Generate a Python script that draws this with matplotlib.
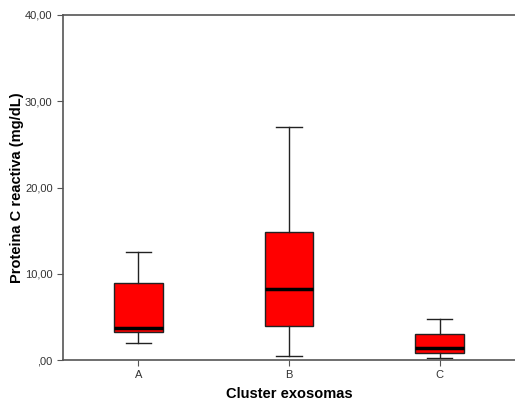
import matplotlib
matplotlib.use("Agg")
import matplotlib.pyplot as plt

plt.rcParams['font.family'] = ['Liberation Sans', 'DejaVu Sans']

categories = ["A", "B", "C"]
whislo = [2.0, 0.45, 0.2]
q1 = [3.2, 3.9, 0.85]
med = [3.7, 8.2, 1.4]
q3 = [8.9, 14.8, 3.0]
whishi = [12.5, 27.0, 4.7]
yticks = [0, 10, 20, 30, 40]
ytick_labels = [",00", "10,00", "20,00", "30,00", "40,00"]

fig = plt.figure(figsize=(5.15, 4.0), dpi=100)
ax = fig.add_axes([63/515, 40/400, 452/515, 345/400])

stats = []
for i, c in enumerate(categories):
    stats.append(dict(label=c, whislo=whislo[i], q1=q1[i], med=med[i],
                      q3=q3[i], whishi=whishi[i], fliers=[]))

ax.bxp(stats, positions=[1, 2, 3], widths=0.325, patch_artist=True,
       showfliers=False,
       boxprops=dict(facecolor="#ff0000", edgecolor="#222222", linewidth=1.0),
       medianprops=dict(color="black", linewidth=2.5),
       whiskerprops=dict(color="#222222", linewidth=1.0),
       capprops=dict(color="#222222", linewidth=1.0),
       capwidths=0.17)

ax.set_xlim(0.5, 3.5)
ax.set_ylim(0, 40)
ax.set_yticks(yticks)
ax.set_yticklabels(ytick_labels)
ax.set_xticks([1, 2, 3])
ax.set_xticklabels(categories)
ax.tick_params(axis='both', labelsize=8, colors="#555555", direction='out', length=4)
ax.tick_params(axis='both', labelcolor="#333333")

for s in ["left", "top", "bottom"]:
    ax.spines[s].set_color("#555555")
    ax.spines[s].set_linewidth(1.2)
ax.spines["right"].set_visible(False)

ax.set_ylabel("Proteina C reactiva (mg/dL)", fontsize=10.5, fontweight="bold")
ax.yaxis.set_label_coords(-0.087, 0.5)
ax.set_xlabel("Cluster exosomas", fontsize=10.5, fontweight="bold", labelpad=5)

fig.savefig("out.png", dpi=100)
